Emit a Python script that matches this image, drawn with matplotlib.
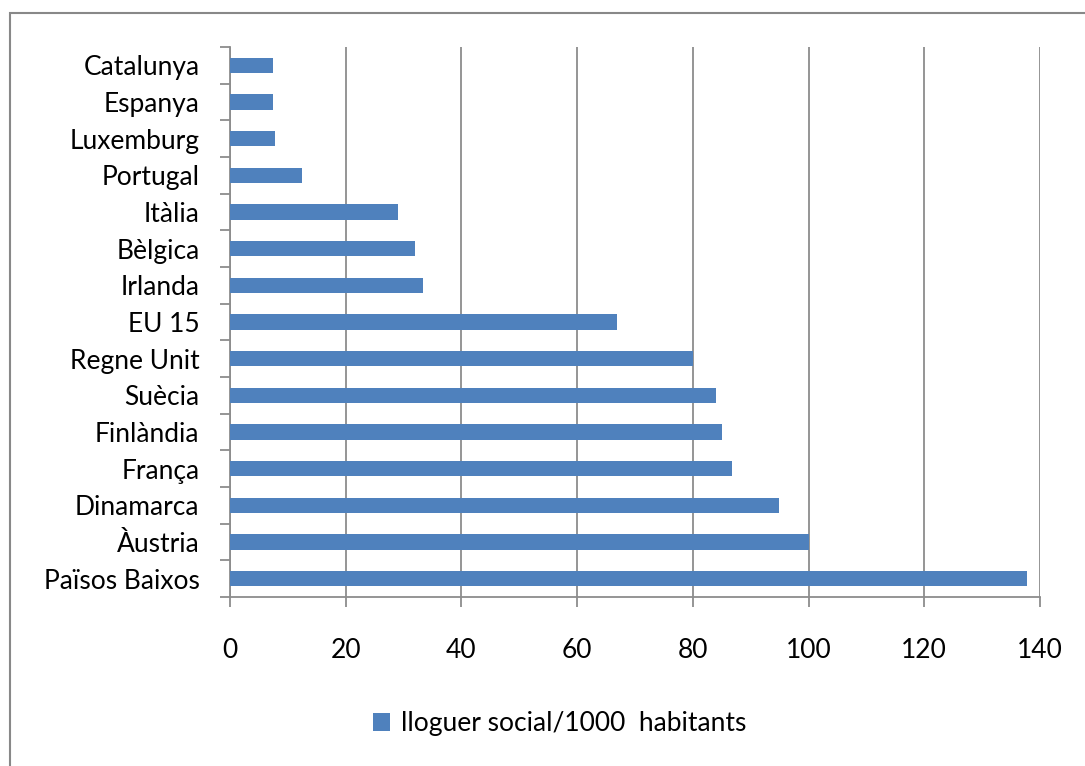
import matplotlib.pyplot as plt
from matplotlib.patches import Rectangle
import numpy as np

plt.rcParams['font.family'] = ['Lato', 'DejaVu Sans']

# data (top to bottom)
countries = ['Catalunya', 'Espanya', 'Luxemburg', 'Portugal', 'Itàlia', 'Bèlgica',
             'Irlanda', 'EU 15', 'Regne Unit', 'Suècia', 'Finlàndia', 'França',
             'Dinamarca', 'Àustria', 'Països Baixos']
values = [7.4, 7.4, 7.8, 12.4, 29.0, 32.0, 33.4, 66.9, 80.0, 84.0, 85.0, 86.8,
          94.9, 100.0, 137.7]
series_name = 'lloguer social/1000  habitants'
xticks = [0, 20, 40, 60, 80, 100, 120, 140]

bar_color = '#4F81BD'
grid_color = '#8C8C8C'

fig = plt.figure(figsize=(10.85, 7.66), dpi=100)
ax = fig.add_axes([230 / 1085, 1 - 597 / 766, 810 / 1085, 550 / 766])

y = np.arange(len(countries))
ax.barh(y, values, height=0.42, color=bar_color, zorder=3, label=series_name)

ax.set_xlim(0, 140)
ax.set_ylim(len(countries) - 0.5, -0.5)
ax.set_xticks(xticks)
ax.set_yticks(y)
ax.set_yticklabels(countries)
ax.set_yticks(np.arange(-0.5, len(countries)), minor=True)

ax.grid(axis='x', color=grid_color, linewidth=1.3, zorder=0)
ax.set_axisbelow(True)

for s in ['top', 'right']:
    ax.spines[s].set_visible(False)
for s in ['left', 'bottom']:
    ax.spines[s].set_color(grid_color)
    ax.spines[s].set_linewidth(1.3)

ax.tick_params(axis='x', length=7.2, width=1.3, color=grid_color, pad=22,
               labelsize=19)
ax.tick_params(axis='y', which='major', length=0, pad=22, labelsize=19)
ax.tick_params(axis='y', which='minor', length=7.2, width=1.3, color=grid_color)

# outer chart border
fig.patches.append(Rectangle((10 / 1085, -0.05), 1.2, 1 - 13 / 766 + 0.05,
                             transform=fig.transFigure, fill=False,
                             edgecolor='#888888', linewidth=1.5))

fig.legend(loc='center', bbox_to_anchor=(0.516, 1 - 724 / 766), frameon=False,
           fontsize=19, handlelength=0.65, handleheight=0.65, handletextpad=0.4)

fig.savefig('out.png', dpi=100)
